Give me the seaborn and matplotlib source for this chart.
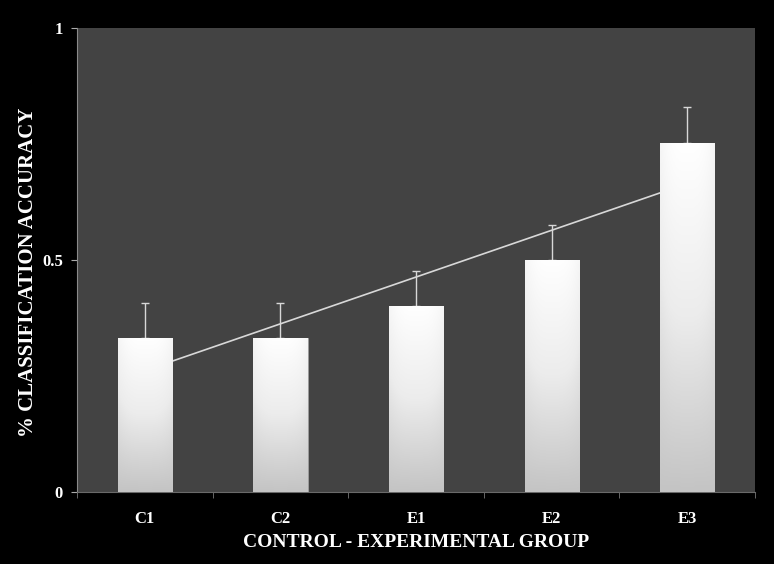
import numpy as np
import pandas as pd
import seaborn as sns
import matplotlib.pyplot as plt
from matplotlib.colors import LinearSegmentedColormap

groups = ["C1", "C2", "E1", "E2", "E3"]
accuracy = [0.332, 0.332, 0.40, 0.50, 0.752]
err_upper = [0.075, 0.075, 0.076, 0.076, 0.078]

df = pd.DataFrame({"group": groups, "accuracy": accuracy})

sns.set_style("dark")
plt.rcParams["font.family"] = ["Liberation Serif", "DejaVu Serif"]

fig = plt.figure(figsize=(7.74, 5.64), dpi=100, facecolor="black")
ax = fig.add_axes([0.0995, 0.1277, 0.876, 0.8227])
ax.set_facecolor("#434343")

sns.barplot(data=df, x="group", y="accuracy", color="white", width=0.4,
            edgecolor="#9a9a9a", linewidth=0.6, ax=ax, zorder=3)

# gradient fill inside the bars: white at top, light grey at bottom
grad_cmap = LinearSegmentedColormap.from_list("g", ["#c4c4c4", "#ececec", "#ffffff"])
vert = np.linspace(0, 1, 256).reshape(-1, 1)
horiz = 1 - 0.25 * np.abs(np.linspace(-1, 1, 64)) ** 3
grad = vert * horiz
for p in ax.patches:
    x0, y0 = p.get_x(), p.get_y()
    w, h = p.get_width(), p.get_height()
    im = ax.imshow(grad, cmap=grad_cmap, origin="lower", aspect="auto",
                   extent=[x0, x0 + w, y0, y0 + h], zorder=3.5, vmin=0, vmax=1)
    im.set_clip_path(p)

# upper error bars only
xs = np.arange(len(groups))
ax.errorbar(xs, accuracy, yerr=[np.zeros(len(groups)), err_upper], fmt="none",
            ecolor="#d8d8d8", elinewidth=1.0, capsize=3, capthick=1.0, zorder=2.5)

# linear trend line (behind bars)
slope, inter = np.polyfit(xs, accuracy, 1)
ax.plot([0, 4], [inter, inter + 4 * slope], color="#d8d8d8", lw=1.2, zorder=2)

ax.set_xlim(-0.5, 4.5)
ax.set_ylim(0, 1)
ax.set_yticks([0, 0.5, 1])
ax.set_yticklabels(["0", "0.5", "1"])
ax.set_xticks(xs)
ax.set_xticks(np.arange(-0.5, 5.0, 1.0), minor=True)
ax.tick_params(axis="x", which="major", length=0, pad=14, colors="white", labelsize=12)
ax.tick_params(axis="x", which="minor", length=4, color="#777777", direction="out", bottom=True)
ax.tick_params(axis="y", length=4, color="#aaaaaa", colors="white", labelsize=12, left=True, pad=6)
for lab in ax.get_xticklabels() + ax.get_yticklabels():
    lab.set_fontweight("bold")
    lab.set_color("white")
ax.grid(False)

for s in ["top", "right"]:
    ax.spines[s].set_visible(False)
ax.spines["left"].set_color("#8a8a8a")
ax.spines["bottom"].set_color("#6a6a6a")
ax.spines["left"].set_visible(True)
ax.spines["bottom"].set_visible(True)

ax.set_xlabel("CONTROL - EXPERIMENTAL GROUP", fontsize=14, fontweight="bold",
              color="white", labelpad=5)
ax.set_ylabel("% CLASSIFICATION ACCURACY", fontsize=15, fontweight="bold",
              color="white")
ax.yaxis.set_label_coords(-0.058, 0.474)

plt.savefig("out.png", dpi=100, facecolor="black")
